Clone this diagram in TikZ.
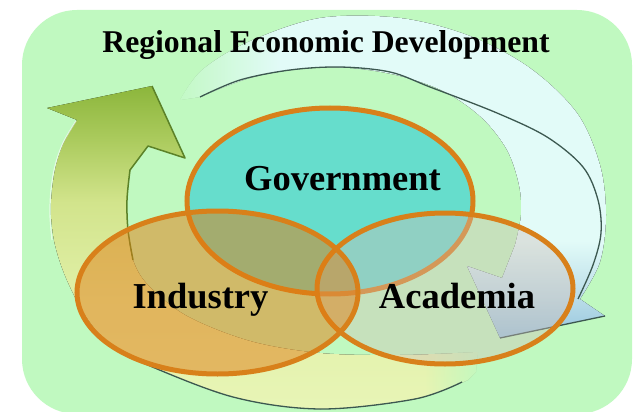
\documentclass[tikz,border=0pt]{standalone}
\usepackage{fontspec}
\setmainfont{Liberation Serif}
\usetikzlibrary{shapes.geometric,fadings}

\definecolor{bggreen}{RGB}{192,249,192}
\definecolor{ringline}{RGB}{60,88,80}
\definecolor{arrowedge}{RGB}{92,130,40}
\definecolor{ellline}{RGB}{216,128,26}
\definecolor{govfill}{RGB}{102,221,204}
\definecolor{indfill}{RGB}{225,125,20}
\definecolor{acafill}{RGB}{207,190,183}
\definecolor{ybA}{RGB}{232,245,182}
\definecolor{ybB}{RGB}{225,240,168}
\definecolor{ybC}{RGB}{210,228,140}
\definecolor{ybD}{RGB}{170,202,92}
\definecolor{ybE}{RGB}{140,182,60}
\definecolor{wbA}{RGB}{150,198,222}
\definecolor{wbB}{RGB}{185,220,232}
\definecolor{wbC}{RGB}{226,251,248}

\pgfdeclareverticalshading{yband}{100bp}{color(0bp)=(ybA); color(25bp)=(ybA); color(42bp)=(ybB); color(57bp)=(ybC); color(67bp)=(ybD); color(75bp)=(ybE); color(100bp)=(ybE)}
\pgfdeclareverticalshading{wband}{100bp}{color(0bp)=(wbA); color(25bp)=(wbA); color(31bp)=(wbB); color(40bp)=(wbC); color(100bp)=(wbC)}

\tikzfading[name=fadeR, left color=transparent!0, right color=transparent!100]
\tikzfading[name=fadeL, left color=transparent!100, right color=transparent!0]

\begin{document}
\begin{tikzpicture}[x=1pt,y=-1pt,
  ellnode/.style={ellipse, draw=ellline, line width=5pt, inner sep=0pt, outer sep=0pt},
  labeltext/.style={anchor=base, font=\bfseries\fontsize{36.5}{40}\selectfont, inner sep=0pt},
  titletext/.style={anchor=base, font=\bfseries\fontsize{31.7}{36}\selectfont, inner sep=0pt},
  ringedge/.style={draw=ringline, line width=1.3pt},
  greenedge/.style={draw=arrowedge, line width=1.5pt, line join=round}]
\useasboundingbox (0,0) rectangle (635,412);
\fill[white] (0,0) rectangle (635,412);
% background panel
\fill[bggreen, rounded corners=55pt] (22,10) rectangle (632,414);

% lower (yellow-green) arrow band
\fill[shading=yband] (478,352) -- (476,372)
  -- plot[smooth, tension=0.55] coordinates {(468,380) (415,399) (320,409) (233,397) (143,363) (110,345) (85,315) (66,278) (55,245) (51,215) (52,190) (56,165) (64,142) (77,120)}
  -- (47,108) -- (152,86) -- (185,158) -- (148,146)
  -- plot[smooth, tension=0.55] coordinates {(130,170) (127,200) (128,230) (133,260) (148,285) (187,316) (250,341) (320,353) (400,355) (478,352)}
  -- cycle;
\fill[bggreen, path fading=fadeL] (425,335) rectangle (485,415);

% upper (white-cyan) arrow band
\fill[shading=wband] plot[smooth, tension=0.55] coordinates {(180,100) (202,70) (248,42) (320,18) (400,18) (470,36) (530,68) (577,113) (600,165) (606,215) (600,262) (580,299)}
  -- (605,316) -- (500,338) -- (467,266) -- (502,278)
  -- plot[smooth, tension=0.55] coordinates {(515,245) (521,215) (519,185) (507,150) (482,118) (445,92) (400,76) (350,68) (300,69) (250,78) (200,97)}
  -- cycle;
\fill[bggreen, path fading=fadeR] (168,18) rectangle (280,112);

% ring edges
\draw[ringedge] plot[smooth, tension=0.55] coordinates {(200,97) (240,80) (290,70) (340,67) (390,72) (430,87) (497,113) (547,137) (583,167) (598,200) (601,233) (593,265) (578,299)};
\draw[ringedge] (605,316) -- (500,338);
\draw[ringedge] plot[smooth, tension=0.55] coordinates {(110,345) (143,363) (233,397) (320,409) (415,399) (462,382)};
\draw[greenedge] (152,86) -- (185,158) -- (148,146)
  -- plot[smooth, tension=0.55] coordinates {(130,170) (127,200) (128,230) (133,260)};
\draw[white, opacity=0.6, line width=1.2pt] plot[smooth, tension=0.55] coordinates {(76,121) (63,143) (55,166) (51,190) (50,215) (52,240)};

% the three spheres
\node[ellnode, fill=govfill, minimum width=286pt, minimum height=186pt] (gov) at (330,201) {};
\node[ellnode, fill=acafill, fill opacity=0.4, minimum width=256pt, minimum height=151pt] (aca) at (445,288.5) {};
\node[ellnode, fill=indfill, fill opacity=0.5, minimum width=281pt, minimum height=163pt] (ind) at (217.5,292.5) {};

% labels
\node[titletext] (title) at (326,53) {Regional Economic Development};
\node[labeltext] (govt) at (342.5,190) {Government};
\node[labeltext] (indt) at (200.5,308) {Industry};
\node[labeltext] (acat) at (457,308) {Academia};
\end{tikzpicture}
\end{document}
